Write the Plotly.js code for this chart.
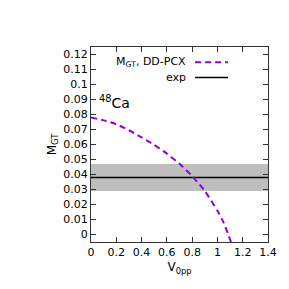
<!DOCTYPE html>
<html><head><meta charset="utf-8">
<script src="https://cdn.plot.ly/plotly-3.0.1.min.js"></script>
<style>html,body{margin:0;padding:0;background:#fff}#c{width:289px;height:289px}</style>
</head><body><div id="c"></div>
<script>
const v0pp = [0, 0.1, 0.2, 0.3, 0.4, 0.5, 0.6, 0.7, 0.8, 0.9, 1.0, 1.05, 1.086, 1.11];
const mgtDDPCX = [0.078, 0.0761, 0.0735, 0.0695, 0.0648, 0.0597, 0.0539, 0.0471, 0.0389, 0.029, 0.0158, 0.0078, 0.0, -0.0057];
const expX = [0, 1.4];
const expValue = 0.038;
const expLow = 0.029;
const expHigh = 0.047;
const xTicks = [0, 0.2, 0.4, 0.6, 0.8, 1, 1.2, 1.4];
const xTickText = ['0', '0.2', '0.4', '0.6', '0.8', '1', '1.2', '1.4'];
const yTicks = [0, 0.01, 0.02, 0.03, 0.04, 0.05, 0.06, 0.07, 0.08, 0.09, 0.1, 0.11, 0.12];
const yTickText = ['0', '0.01', '0.02', '0.03', '0.04', '0.05', '0.06', '0.07', '0.08', '0.09', '0.1', '0.11', '0.12'];

const F = 'DejaVu Sans, sans-serif';
const traces = [
  {x: expX, y: expX.map(() => expHigh), mode: 'lines', line: {width: 0, color: '#bebebe'}, showlegend: false, hoverinfo: 'skip'},
  {x: expX, y: expX.map(() => expLow), mode: 'lines', line: {width: 0, color: '#bebebe'}, fill: 'tonexty', fillcolor: '#bebebe', showlegend: false, hoverinfo: 'skip'},
  {x: expX, y: expX.map(() => expValue), mode: 'lines', line: {color: '#000', width: 1.5}, showlegend: false},
  {x: v0pp, y: mgtDDPCX, mode: 'lines', line: {color: '#9400d3', width: 2, dash: '6px,4px', shape: 'spline', smoothing: 0.6}, showlegend: false}
];
const axisCommon = {showgrid: false, zeroline: false, showline: true, mirror: 'ticks', linecolor: '#333', linewidth: 1,
  ticks: 'inside', ticklen: 5, tickcolor: '#333', tickfont: {family: F, size: 11, color: '#000'}};
const layout = {
  width: 289, height: 289,
  margin: {l: 91, r: 21, t: 47, b: 47},
  paper_bgcolor: '#fff', plot_bgcolor: '#fff',
  showlegend: false,
  xaxis: Object.assign({}, axisCommon, {range: [0, 1.4], tickvals: xTicks, ticktext: xTickText,
    title: {text: 'V<sub>0pp</sub>', font: {family: F, size: 12, color: '#000'}, standoff: 4}}),
  yaxis: Object.assign({}, axisCommon, {range: [-0.005, 0.125], tickvals: yTicks, ticktext: yTickText,
    title: {text: 'M<sub>GT</sub>', font: {family: F, size: 12, color: '#000'}, standoff: 4}}),
  annotations: [
    {xref: 'paper', yref: 'paper', x: 0.548, y: 0.922, xanchor: 'right', yanchor: 'middle', showarrow: false,
     text: 'M<sub>GT</sub>, DD-PCX', font: {family: F, size: 11, color: '#000'}},
    {xref: 'paper', yref: 'paper', x: 0.548, y: 0.844, xanchor: 'right', yanchor: 'middle', showarrow: false,
     text: 'exp', font: {family: F, size: 11, color: '#000'}},
    {xref: 'paper', yref: 'paper', x: 0.035, y: 0.72, xanchor: 'left', yanchor: 'middle', showarrow: false,
     text: '<sup>48</sup>Ca', font: {family: F, size: 14, color: '#000'}}
  ],
  shapes: [
    {type: 'line', xref: 'paper', yref: 'paper', x0: 0.588, x1: 0.774, y0: 0.922, y1: 0.922, line: {color: '#9400d3', width: 2, dash: '6px,4px'}},
    {type: 'line', xref: 'paper', yref: 'paper', x0: 0.588, x1: 0.774, y0: 0.844, y1: 0.844, line: {color: '#000', width: 1.5}}
  ]
};
Plotly.newPlot('c', traces, layout, {staticPlot: true, displayModeBar: false});
</script></body></html>
